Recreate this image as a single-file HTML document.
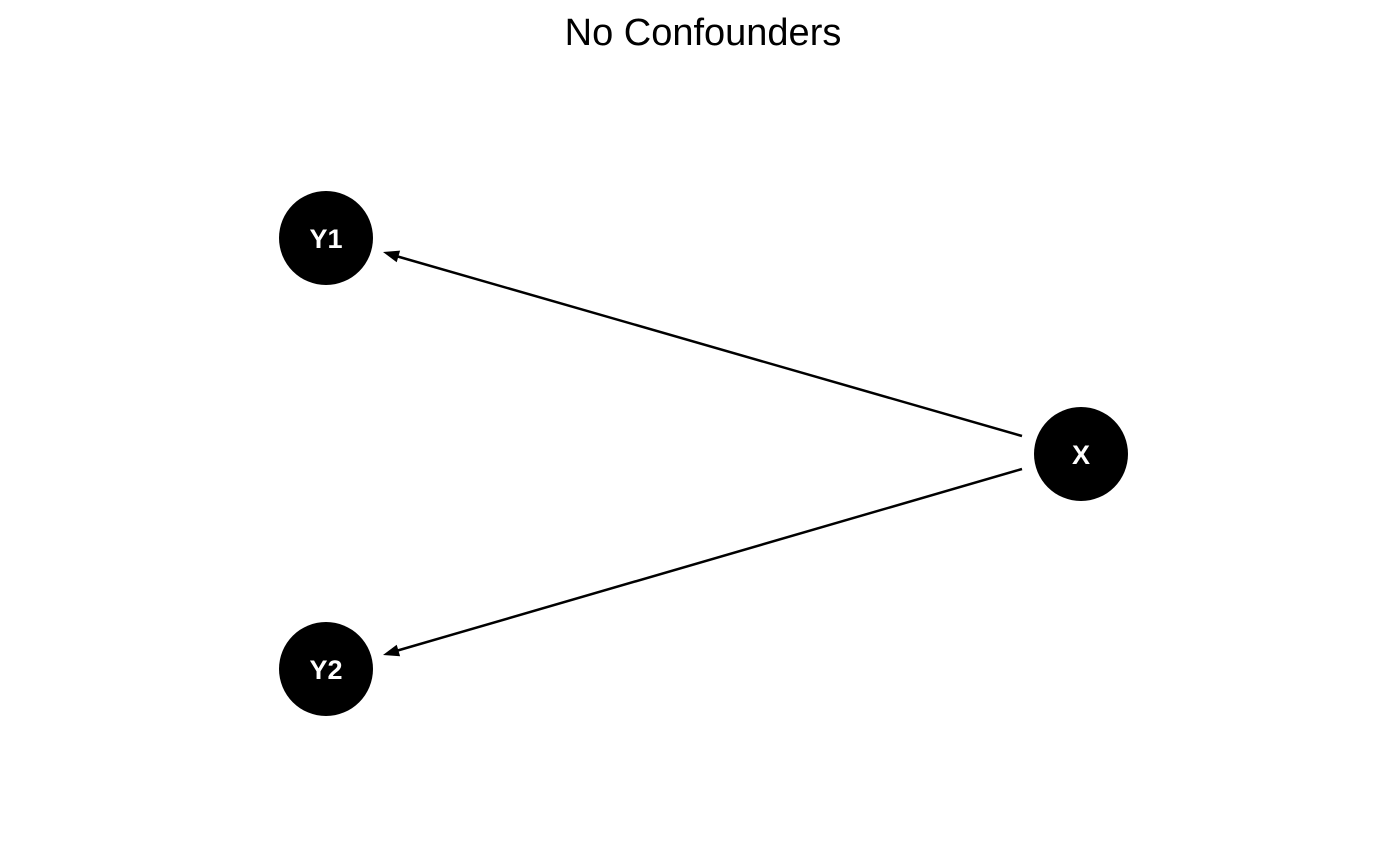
<!DOCTYPE html>
<html><head><style>body{margin:0;background:#fff;}svg{display:block}</style></head>
<body>
<svg width="1400" height="865" xmlns="http://www.w3.org/2000/svg">
<text x="703" y="45" text-anchor="middle" font-family="Liberation Sans, sans-serif" font-size="38" fill="#000">No Confounders</text>
<line x1="1022" y1="436" x2="396" y2="256" stroke="#000" stroke-width="2.5"/>
<line x1="1022" y1="469" x2="396" y2="651" stroke="#000" stroke-width="2.5"/>
<polygon points="383,252 400.1,250.6 396.7,262.2" fill="#000"/>
<polygon points="383,655 400.1,656.3 396.7,644.7" fill="#000"/>
<circle cx="326" cy="238" r="47" fill="#000"/>
<circle cx="326" cy="669" r="47" fill="#000"/>
<circle cx="1081" cy="454" r="47" fill="#000"/>
<g font-family="Liberation Sans, sans-serif" font-size="27" font-weight="bold" fill="#fff" text-anchor="middle">
<text x="326" y="248">Y1</text>
<text x="326" y="679">Y2</text>
<text x="1081" y="464">X</text>
</g>
</svg>
</body></html>
